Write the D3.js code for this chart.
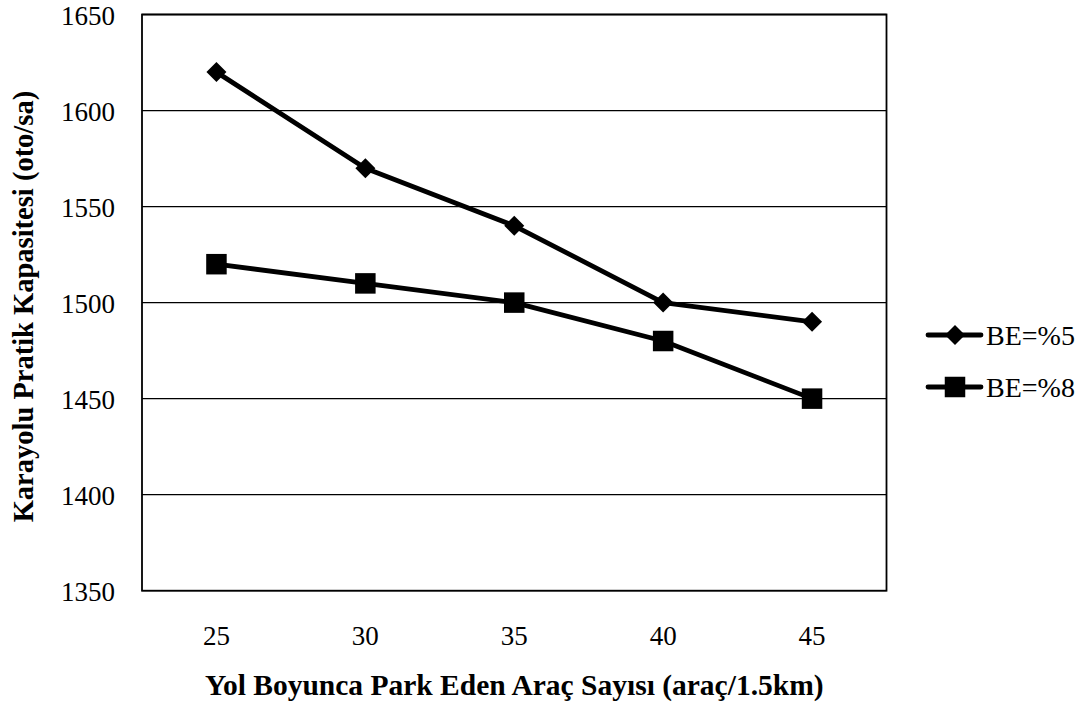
<!DOCTYPE html>
<html>
<head>
<meta charset="utf-8">
<script src="https://cdn.jsdelivr.net/npm/d3@7"></script>
<style>
  html, body { margin: 0; padding: 0; background: #fff; }
  svg { display: block; }
  text { font-family: "Liberation Serif", "Times New Roman", serif; fill: #000; }
</style>
</head>
<body>
<svg id="chart" width="1086" height="708"></svg>
<script>
// Parked vehicles along the road (per 1.5 km)
const categories = [25, 30, 35, 40, 45];
// Practical road capacity (veh/h) for each side-friction level
const be5 = [1620, 1570, 1540, 1500, 1490];
const be8 = [1520, 1510, 1500, 1480, 1450];
const seriesNames = ["BE=%5", "BE=%8"];
const yTicks = [1350, 1400, 1450, 1500, 1550, 1600, 1650];

const svg = d3.select("#chart");
const plot = { left: 142, top: 14.5, right: 886.5, bottom: 590.7 };

const x = d3.scaleBand().domain(categories).range([plot.left, plot.right]);
const y = d3.scaleLinear().domain([1350, 1650]).range([plot.bottom, plot.top]);

// horizontal grid lines
svg.append("g")
  .selectAll("line")
  .data(yTicks)
  .join("line")
  .attr("x1", plot.left).attr("x2", plot.right)
  .attr("y1", d => y(d)).attr("y2", d => y(d))
  .attr("stroke", "#000").attr("stroke-width", 1.3);

// plot frame
svg.append("rect")
  .attr("x", plot.left).attr("y", plot.top)
  .attr("width", plot.right - plot.left).attr("height", plot.bottom - plot.top)
  .attr("fill", "none").attr("stroke", "#000").attr("stroke-width", 1.8);

// y axis labels
const yAxis = d3.axisLeft(y).tickValues(yTicks).tickFormat(d3.format("d"))
  .tickSize(0).tickPadding(27);
svg.append("g")
  .attr("transform", `translate(${plot.left},0)`)
  .call(yAxis)
  .call(g => g.select(".domain").remove())
  .selectAll("text")
  .attr("font-family", "Liberation Serif").attr("font-size", 27).attr("dy", "0.36em");

// x axis labels
const xAxis = d3.axisBottom(x).tickSize(0).tickPadding(35);
svg.append("g")
  .attr("transform", `translate(0,${plot.bottom})`)
  .call(xAxis)
  .call(g => g.select(".domain").remove())
  .selectAll("text")
  .attr("font-family", "Liberation Serif").attr("font-size", 27);

// axis titles
svg.append("text")
  .attr("x", (plot.left + plot.right) / 2).attr("y", 695)
  .attr("text-anchor", "middle")
  .attr("font-size", 29.5).attr("font-weight", "bold")
  .text("Yol Boyunca Park Eden Araç Sayısı (araç/1.5km)");

svg.append("text")
  .attr("transform", `translate(33,${(plot.top + plot.bottom) / 2 + 4}) rotate(-90)`)
  .attr("text-anchor", "middle")
  .attr("font-size", 28.5).attr("font-weight", "bold")
  .text("Karayolu Pratik Kapasitesi (oto/sa)");

const cx = d => x(d) + x.bandwidth() / 2;
const line = d3.line().x(d => cx(d.c)).y(d => y(d.v));

function drawDiamond(sel, px, py) {
  const r = 10;
  sel.append("path")
    .attr("d", `M${px},${py - r}L${px + r},${py}L${px},${py + r}L${px - r},${py}Z`)
    .attr("fill", "#000");
}
function drawSquare(sel, px, py) {
  const s = 20.5;
  sel.append("rect")
    .attr("x", px - s / 2).attr("y", py - s / 2)
    .attr("width", s).attr("height", s)
    .attr("fill", "#000");
}

const series = [
  { name: seriesNames[0], values: be5, marker: drawDiamond },
  { name: seriesNames[1], values: be8, marker: drawSquare }
];

series.forEach(s => {
  const pts = categories.map((c, i) => ({ c, v: s.values[i] }));
  const g = svg.append("g");
  g.append("path")
    .attr("d", line(pts))
    .attr("fill", "none").attr("stroke", "#000")
    .attr("stroke-width", 4.8).attr("stroke-linejoin", "round");
  pts.forEach(p => s.marker(g, cx(p.c), y(p.v)));
});

// legend
const legendY = [335, 387];
series.forEach((s, i) => {
  const g = svg.append("g");
  g.append("line")
    .attr("x1", 928).attr("x2", 981)
    .attr("y1", legendY[i]).attr("y2", legendY[i])
    .attr("stroke", "#000").attr("stroke-width", 4.8).attr("stroke-linecap", "round");
  s.marker(g, 955, legendY[i]);
  g.append("text")
    .attr("x", 986).attr("y", legendY[i] + 10)
    .attr("font-size", 28)
    .text(s.name);
});
</script>
</body>
</html>
